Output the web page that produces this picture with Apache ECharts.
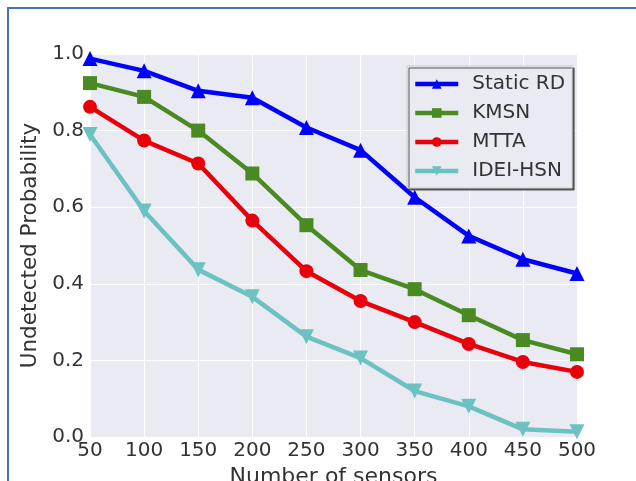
<!DOCTYPE html>
<html>
<head>
<meta charset="utf-8">
<script src="https://cdn.jsdelivr.net/npm/echarts@6/dist/echarts.min.js"></script>
<style>
  html, body { margin: 0; padding: 0; background: #fff; }
  #chart { width: 636px; height: 481px; }
</style>
</head>
<body>
<div id="chart"></div>
<script>
const sensors = [50, 100, 150, 200, 250, 300, 350, 400, 450, 500];
const staticRD = [0.988, 0.956, 0.904, 0.886, 0.808, 0.749, 0.626, 0.525, 0.464, 0.427];
const kmsn = [0.924, 0.888, 0.800, 0.688, 0.553, 0.436, 0.386, 0.318, 0.253, 0.216];
const mtta = [0.862, 0.774, 0.714, 0.565, 0.433, 0.355, 0.300, 0.243, 0.196, 0.170];
const ideiHsn = [0.790, 0.590, 0.437, 0.366, 0.262, 0.206, 0.120, 0.080, 0.020, 0.014];

const font = "DejaVu Sans";

function pairs(values) {
  return sensors.map((x, i) => [x, values[i]]);
}

function makeSeries(name, values, color, symbol, rotate, size) {
  return {
    name,
    type: "line",
    data: pairs(values),
    symbol,
    symbolSize: size,
    symbolRotate: rotate,
    lineStyle: { color, width: 4.5 },
    itemStyle: { color },
    emphasis: { disabled: true },
  };
}

const chart = echarts.init(document.getElementById("chart"), null, { renderer: "canvas" });

const option = {
  animation: false,
  backgroundColor: "#fff",
  graphic: [
    {
      type: "rect",
      shape: { x: 8, y: 8, width: 700, height: 600 },
      style: { fill: "none", stroke: "#4472C4", lineWidth: 2 },
      z: 100,
    },
  ],
  grid: {
    left: 90,
    right: 59,
    top: 54,
    bottom: 44,
    outerBoundsMode: "none",
    show: true,
    backgroundColor: "#EAEAF2",
    borderWidth: 0,
  },
  legend: {
    orient: "vertical",
    left: 407,
    top: 66,
    itemWidth: 43,
    itemHeight: 12,
    itemGap: 9,
    padding: [8, 7, 7, 6],
    backgroundColor: "#EAEAF2",
    borderColor: "#ccc",
    borderWidth: 1,
    shadowColor: "#555",
    shadowOffsetX: 2,
    shadowOffsetY: 2,
    shadowBlur: 0,
    lineStyle: { width: 4.5 },
    textStyle: {
      fontFamily: font,
      fontSize: 20,
      lineHeight: 20,
      color: "#333",
      padding: [0, 0, 0, 9],
    },
    data: ["Static RD", "KMSN", "MTTA", "IDEI-HSN"],
  },
  xAxis: {
    type: "value",
    min: 50,
    max: 500,
    interval: 50,
    name: "Number of sensors",
    nameLocation: "middle",
    nameGap: 27,
    nameTextStyle: { fontFamily: font, fontSize: 22, color: "#333" },
    axisLine: { show: false },
    axisTick: { show: false },
    axisLabel: { fontFamily: font, fontSize: 20, color: "#333", margin: 4 },
    splitLine: { lineStyle: { color: "#fff", width: 1 } },
  },
  yAxis: {
    type: "value",
    min: 0,
    max: 1,
    interval: 0.2,
    name: "Undetected Probability",
    nameLocation: "middle",
    nameGap: 38,
    nameTextStyle: { fontFamily: font, fontSize: 21.5, color: "#333" },
    axisLine: { show: false },
    axisTick: { show: false },
    axisLabel: {
      fontFamily: font,
      fontSize: 20,
      color: "#333",
      margin: 6,
      formatter: (v) => v.toFixed(1),
    },
    splitLine: { lineStyle: { color: "#fff", width: 1 } },
  },
  series: [
    makeSeries("Static RD", staticRD, "#0000FF", "triangle", 0, 15),
    makeSeries("KMSN", kmsn, "#4A8A22", "rect", 0, 14),
    makeSeries("MTTA", mtta, "#E8000B", "circle", 0, 14),
    makeSeries("IDEI-HSN", ideiHsn, "#6CC1C1", "triangle", 180, 15),
  ],
};

chart.setOption(option);
</script>
</body>
</html>
